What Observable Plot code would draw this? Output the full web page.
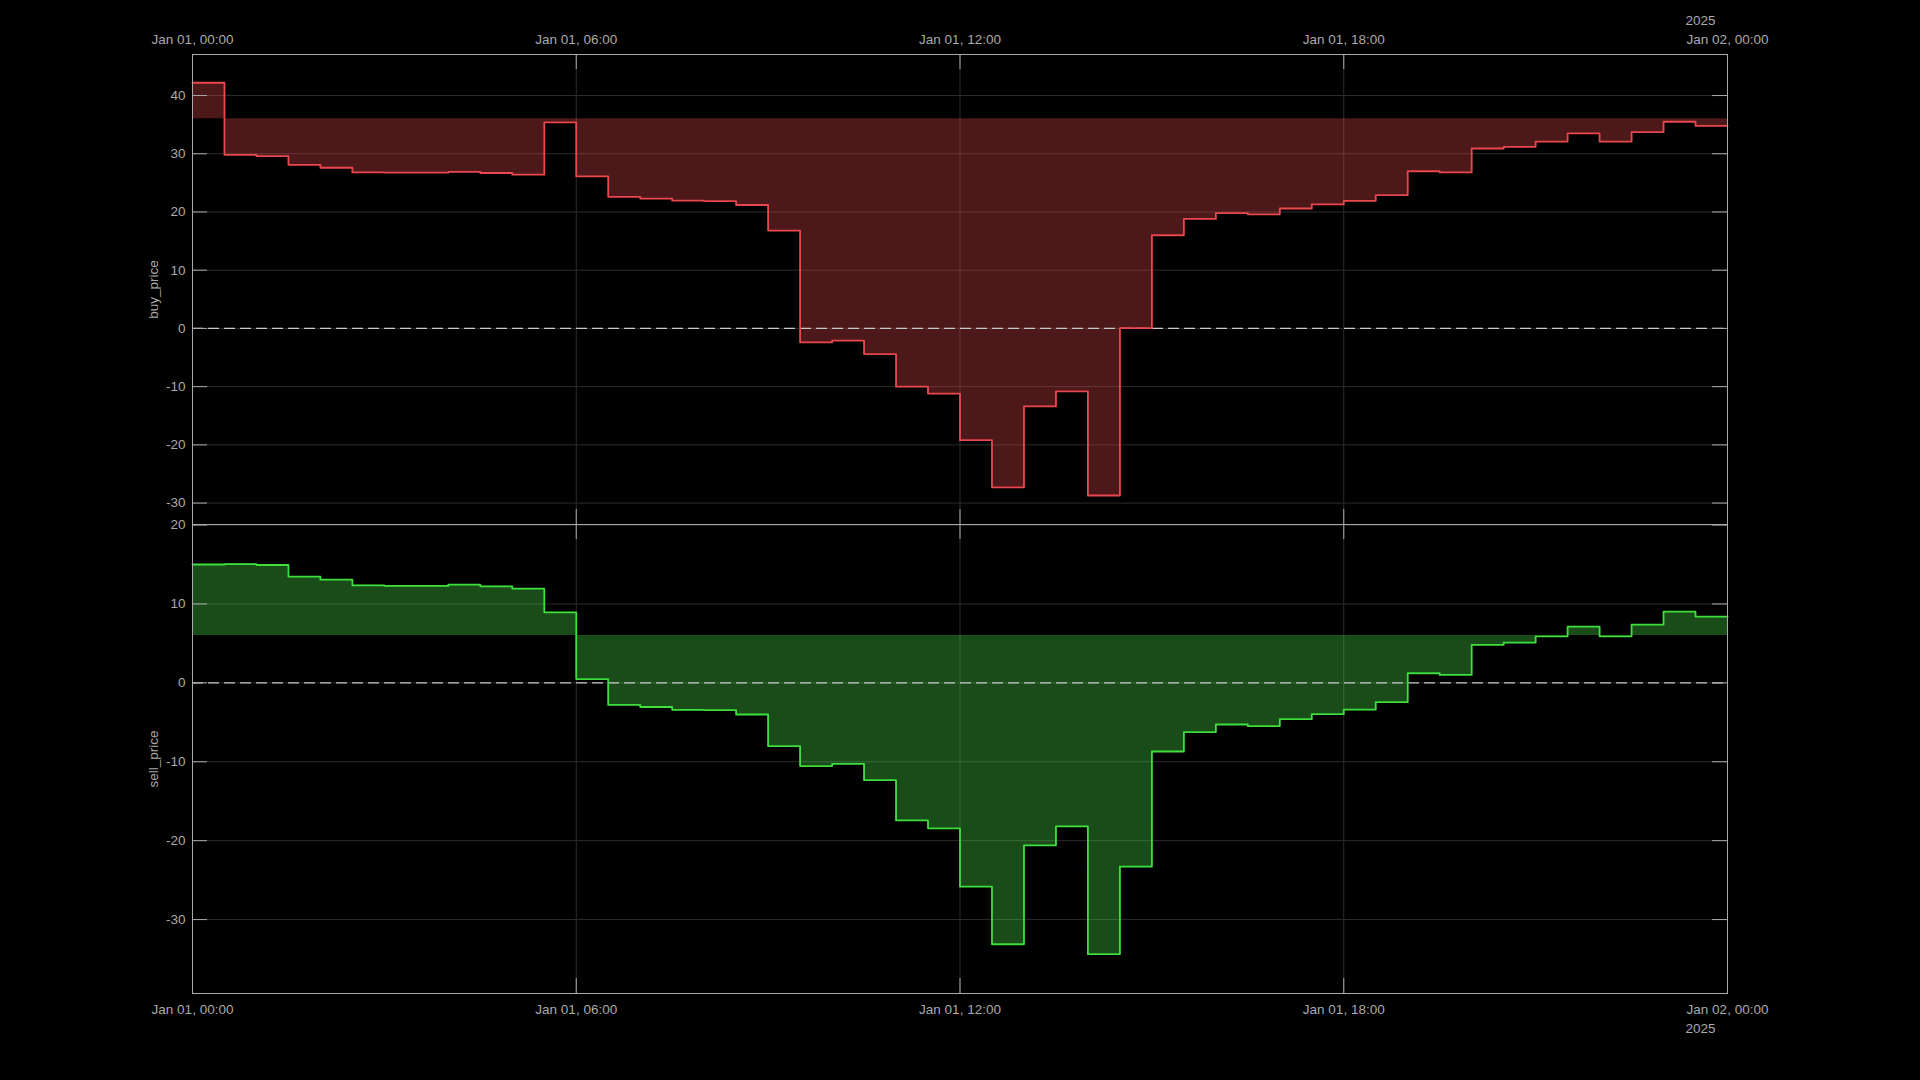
<!DOCTYPE html>
<html>
<head>
<meta charset="utf-8">
<script src="https://cdn.jsdelivr.net/npm/d3@7"></script>
<script src="https://cdn.jsdelivr.net/npm/@observablehq/plot@0.6"></script>
<style>
html, body { margin: 0; padding: 0; background: #000; width: 1920px; height: 1080px; overflow: hidden; }
#wrap { position: relative; width: 1920px; height: 1080px; background: #000; }
#top, #bot { position: absolute; left: 0; }
#top { top: 0; }
#bot { top: 474px; }
</style>
</head>
<body>
<div id="wrap"><div id="top"></div><div id="bot"></div></div>
<script>
// ---- data (half-hourly values) ----
const startTime = new Date("2025-01-01T00:00:00Z");
const endTime = new Date("2025-01-02T00:00:00Z");
const times = d3.utcMinute.every(30).range(startTime, endTime);

const buyPrice = [
  42.2, 29.8, 29.6, 28.1, 27.6, 26.8, 26.75, 26.75, 26.9, 26.7, 26.4, 35.4,
  26.1, 22.6, 22.3, 21.95, 21.85, 21.2, 16.8, -2.4, -2.1, -4.4, -10.0, -11.2,
  -19.2, -27.3, -13.4, -10.8, -28.7, 0.05, 16.0, 18.8, 19.8, 19.6, 20.6, 21.3,
  21.9, 22.9, 27.0, 26.8, 30.9, 31.2, 32.1, 33.5, 32.1, 33.7, 35.5, 34.8
];
const sellPrice = [
  15.0, 15.06, 14.94, 13.46, 13.08, 12.36, 12.28, 12.28, 12.44, 12.23, 11.94, 8.94,
  0.48, -2.8, -3.06, -3.42, -3.46, -4.01, -8.02, -10.55, -10.26, -12.33, -17.43, -18.44,
  -25.83, -33.13, -20.6, -18.19, -34.39, -23.29, -8.7, -6.25, -5.28, -5.49, -4.6, -3.97,
  -3.38, -2.45, 1.22, 1.01, 4.81, 5.1, 5.9, 7.13, 5.9, 7.38, 9.03, 8.39
];
const buyReference = 36.0;
const sellReference = 6.0;

const buyTicks = [-30, -20, -10, 0, 10, 20, 30, 40];
const sellTicks = [-30, -20, -10, 0, 10, 20];
const timeTicks = d3.utcHour.every(6).range(startTime, new Date(+endTime + 1));
const yearLabel = "2025";
const fmt = d3.utcFormat("%b %d, %H:%M");

const FONT = "'Liberation Sans', Arial, Helvetica, sans-serif";
const TXT = "#aaaaaa";

function panel({values, ref, yDomain, yTicks, label, lineColor, fillColor, marginTop, plotH, marginBottom, xAnchor}) {
  const W = 1920, L = 192, R = 193;
  const plotW = W - L - R;
  const rows = times.map((t, i) => ({t, v: values[i]}));
  const ext = [...rows, {t: endTime, v: values[values.length - 1]}];
  const yearMark = xAnchor === "top"
    ? Plot.text([endTime], {x: d => d, text: () => yearLabel, frameAnchor: "top", dy: -34, dx: -42, textAnchor: "start", lineAnchor: "middle", fontSize: 13.5, fill: TXT})
    : Plot.text([endTime], {x: d => d, text: () => yearLabel, frameAnchor: "bottom", dy: 35, dx: -42, textAnchor: "start", lineAnchor: "middle", fontSize: 13.5, fill: TXT});
  return Plot.plot({
    width: W,
    height: marginTop + plotH + marginBottom,
    marginLeft: L, marginRight: R, marginTop, marginBottom,
    style: {background: "transparent", color: TXT, fontFamily: FONT, fontSize: "13.5px"},
    x: {type: "utc", domain: [startTime, endTime], axis: xAnchor, ticks: timeTicks, tickFormat: fmt, tickSize: 0, tickPadding: xAnchor === "top" ? 11 : 11, label: null},
    y: {domain: yDomain, ticks: yTicks, tickSize: 0, tickPadding: 7, label: null, tickFormat: d => String(d)},
    marks: [
      Plot.ruleY(yTicks, {stroke: "#2c2c2c", strokeWidth: 1}),
      Plot.ruleX(timeTicks, {stroke: "#2c2c2c", strokeWidth: 1}),
      Plot.areaY(ext, {x: "t", y1: ref, y2: "v", curve: "step-after", fill: fillColor, fillOpacity: 0.33}),
      Plot.ruleY([0], {stroke: "#c8c8c8", strokeDasharray: "11,5", strokeWidth: 1.3}),
      Plot.line(ext, {x: "t", y: "v", curve: "step-after", stroke: lineColor, strokeWidth: 1.8}),
      Plot.tickY(yTicks, {y: d => d, insetRight: plotW - 15, stroke: "#aaaaaa"}),
      Plot.tickY(yTicks, {y: d => d, insetLeft: plotW - 15, stroke: "#aaaaaa"}),
      Plot.tickX(timeTicks, {x: d => d, insetBottom: plotH - 15, stroke: "#aaaaaa"}),
      Plot.tickX(timeTicks, {x: d => d, insetTop: plotH - 15, stroke: "#aaaaaa"}),
      Plot.text([label], {text: d => d, frameAnchor: "left", textAnchor: "middle", lineAnchor: "middle", rotate: -90, dx: -39, fontSize: 13.5, fill: TXT}),
      yearMark,
      Plot.frame({stroke: "#aaaaaa"})
    ]
  });
}

document.getElementById("top").append(panel({
  values: buyPrice, ref: buyReference, yDomain: [-33.68, 47.05], yTicks: buyTicks, label: "buy_price",
  lineColor: "#eb484e", fillColor: "rgb(235,72,78)", marginTop: 54, plotH: 470, marginBottom: 16, xAnchor: "top"
}));
document.getElementById("bot").append(panel({
  values: sellPrice, ref: sellReference, yDomain: [-39.37, 20.07], yTicks: sellTicks, label: "sell_price",
  lineColor: "#3ee03e", fillColor: "rgb(78,232,78)", marginTop: 50, plotH: 469, marginBottom: 87, xAnchor: "bottom"
}));
</script>
</body>
</html>
